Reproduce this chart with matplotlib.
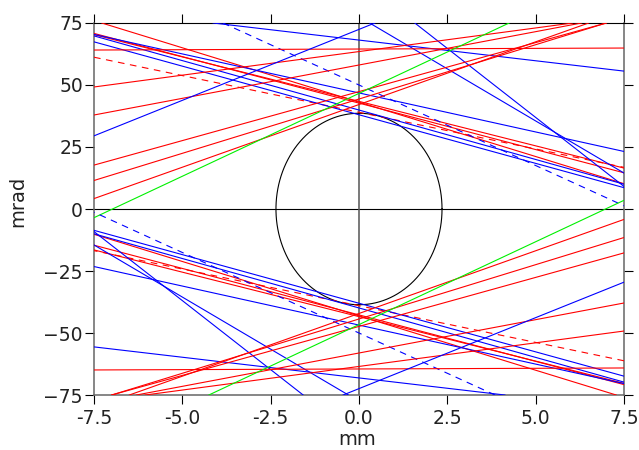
import matplotlib
matplotlib.use("Agg")
import matplotlib.pyplot as plt
import numpy as np

plt.rcParams['font.family'] = ['DejaVu Sans']

# ray segments: start (x0, y0) -> end (x1, y1), mm / mrad
x0 = [-7.28, -7.5, -7.5, -7.5, -7.5, -7.5, -7.5, -4.13, -3.85, 0.30, 1.58,
      -7.5, -7.5, -7.5, -7.5, -7.5, -7.5, -7.5, -7.5,
      7.28, 7.5, 7.5, 7.5, 7.5, 7.5, 7.5, 4.13, 3.85, -0.30, -1.58,
      7.5, 7.5, 7.5, 7.5, 7.5, 7.5, 7.5, 7.5]
y0 = [75.0, 70.8, 70.3, 61.2, 70.4, 69.8, 67.4, 75.0, 75.0, 75.0, 75.0,
      64.1, 49.2, 37.9, 29.5, 17.7, 11.5, 4.2, -3.5,
      -75.0, -70.8, -70.3, -61.2, -70.4, -69.8, -67.4, -75.0, -75.0, -75.0, -75.0,
      -64.1, -49.2, -37.9, -29.5, -17.7, -11.5, -4.2, 3.5]
x1 = [7.5, 7.5, 7.5, 7.5, 7.5, 7.5, 7.5, 7.5, 7.5, 7.5, 7.5,
      7.5, 6.05, 6.3, 0.45, 7.0, 7.0, 6.5, 4.25,
      -7.5, -7.5, -7.5, -7.5, -7.5, -7.5, -7.5, -7.5, -7.5, -7.5, -7.5,
      -7.5, -6.05, -6.3, -0.45, -7.0, -7.0, -6.5, -4.25]
y1 = [10.2, 14.6, 16.5, 16.8, 23.2, 10.0, 8.6, 55.6, 1.3, 14.5, 9.1,
      64.9, 75.0, 75.0, 75.0, 75.0, 75.0, 75.0, 75.0,
      -10.2, -14.6, -16.5, -16.8, -23.2, -10.0, -8.6, -55.6, -1.3, -14.5, -9.1,
      -64.9, -75.0, -75.0, -75.0, -75.0, -75.0, -75.0, -75.0]
kind = ['r', 'r', 'r', 'r--', 'b', 'b', 'b', 'b', 'b--', 'b', 'b',
        'r', 'r', 'r', 'b', 'r', 'r', 'r', 'g'] * 2

# acceptance ellipse
ell_a = 2.35
ell_b = 38.6

colors = {'r': '#ff0000', 'b': '#0000ff', 'g': '#00f000'}

fig = plt.figure(figsize=(6.39, 4.5), dpi=100)
ax = fig.add_axes([0.1471, 0.1222, 0.8294, 0.8267])

ax.axhline(0, color='black', lw=0.8, zorder=1)
ax.axvline(0, color='#555555', lw=1.1, zorder=1)

t = np.linspace(0, 2 * np.pi, 400)
ax.plot(ell_a * np.cos(t), ell_b * np.sin(t), color='black', lw=0.8, zorder=2)

for i in range(len(x0)):
    k = kind[i]
    ls = (0, (6, 5)) if k.endswith('--') else '-'
    ax.plot([x0[i], x1[i]], [y0[i], y1[i]], color=colors[k[0]], lw=0.8,
            linestyle=ls, zorder=3)

ax.set_xlim(-7.5, 7.5)
ax.set_ylim(-75, 75)
ax.set_xticks(np.arange(-7.5, 7.6, 2.5))
ax.set_yticks(np.arange(-75, 76, 25))
ax.tick_params(direction='out', length=6.5, width=0.8, top=True, right=True,
               labelsize=13.5, color='black', labelcolor='#222222')
ax.tick_params(axis='x', pad=3.5)
ax.tick_params(axis='y', pad=1.5)
ax.xaxis.set_major_formatter(matplotlib.ticker.FormatStrFormatter('%.1f'))
for s in ['left', 'bottom', 'right']:
    ax.spines[s].set_color('#666666')
    ax.spines[s].set_linewidth(1.1)
ax.spines['top'].set_linewidth(0.8)

ax.set_xlabel('mm', fontsize=14, color='#222222')
ax.xaxis.set_label_coords(0.496, -0.093)
ax.set_ylabel('mrad', fontsize=14, color='#222222')
ax.yaxis.set_label_coords(-0.126, 0.52)

fig.savefig('out.png', dpi=100)
